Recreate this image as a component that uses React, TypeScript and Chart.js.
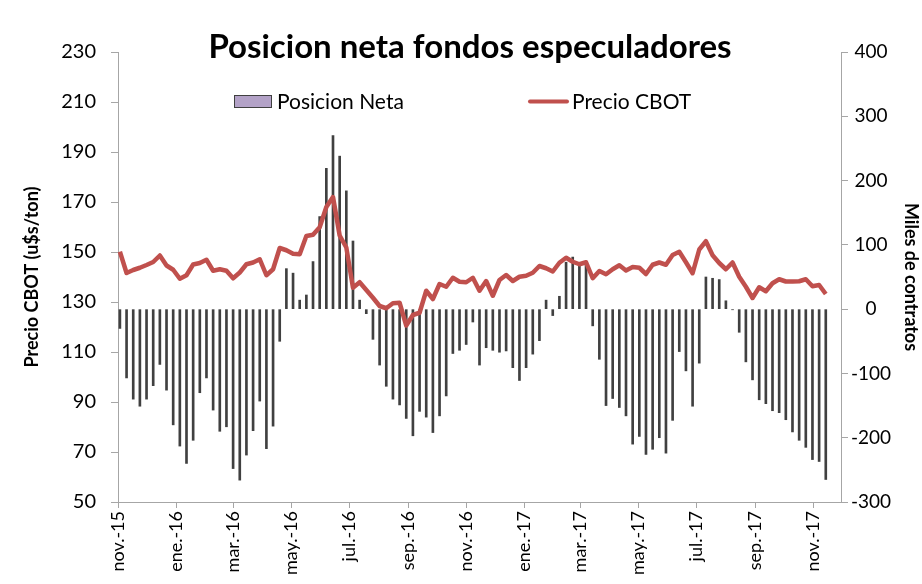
import React, { useEffect, useRef } from 'react';
import { Chart, registerables } from 'chart.js';

Chart.register(...registerables);

const chartTitle = 'Posicion neta fondos especuladores';
const barLabel = 'Posicion Neta';
const lineLabel = 'Precio CBOT';
const leftAxisTitle = 'Precio CBOT (u$s/ton)';
const rightAxisTitle = 'Miles de contratos';

const weekDates = [
  '2015-11-03', '2015-11-10', '2015-11-17', '2015-11-24', '2015-12-01', '2015-12-08', '2015-12-15', '2015-12-22', '2015-12-29',
  '2016-01-05', '2016-01-12', '2016-01-19', '2016-01-26', '2016-02-02', '2016-02-09', '2016-02-16', '2016-02-23',
  '2016-03-01', '2016-03-08', '2016-03-15', '2016-03-22', '2016-03-29', '2016-04-05', '2016-04-12', '2016-04-19', '2016-04-26',
  '2016-05-03', '2016-05-10', '2016-05-17', '2016-05-24', '2016-05-31', '2016-06-07', '2016-06-14', '2016-06-21', '2016-06-28',
  '2016-07-05', '2016-07-12', '2016-07-19', '2016-07-26', '2016-08-02', '2016-08-09', '2016-08-16', '2016-08-23', '2016-08-30',
  '2016-09-06', '2016-09-13', '2016-09-20', '2016-09-27', '2016-10-04', '2016-10-11', '2016-10-18', '2016-10-25',
  '2016-11-01', '2016-11-08', '2016-11-15', '2016-11-22', '2016-11-29', '2016-12-06', '2016-12-13', '2016-12-20', '2016-12-27',
  '2017-01-03', '2017-01-10', '2017-01-17', '2017-01-24', '2017-01-31', '2017-02-07', '2017-02-14', '2017-02-21', '2017-02-28',
  '2017-03-07', '2017-03-14', '2017-03-21', '2017-03-28', '2017-04-04', '2017-04-11', '2017-04-18', '2017-04-25',
  '2017-05-02', '2017-05-09', '2017-05-16', '2017-05-23', '2017-05-30', '2017-06-06', '2017-06-13', '2017-06-20', '2017-06-27',
  '2017-07-04', '2017-07-11', '2017-07-18', '2017-07-25', '2017-08-01', '2017-08-08', '2017-08-15', '2017-08-22', '2017-08-29',
  '2017-09-05', '2017-09-12', '2017-09-19', '2017-09-26', '2017-10-03', '2017-10-10', '2017-10-17', '2017-10-24', '2017-10-31',
  '2017-11-07', '2017-11-14',
];

const posicionNeta = [
  -30, -107, -140, -151, -140, -119, -86, -126, -180, -213,
  -240, -204, -130, -107, -157, -190, -183, -248, -266, -227,
  -189, -143, -217, -182, -50, 63, 56, 14, 22, 74,
  144, 219, 270, 238, 184, 106, 14, -7, -47, -87,
  -120, -140, -149, -170, -197, -159, -168, -192, -166, -135,
  -69, -64, -55, -20, -87, -60, -64, -67, -65, -91,
  -111, -91, -70, -49, 14, -10, 20, 73, 81, 69,
  72, -26, -78, -150, -139, -153, -166, -210, -198, -226,
  -218, -200, -224, -173, -66, -96, -151, -84, 50, 48,
  46, 13, -1, -36, -82, -110, -141, -147, -158, -161,
  -172, -191, -204, -215, -234, -237, -265,
];

const precioCBOT = [
  150.1, 141.6, 142.8, 143.7, 144.8, 146.0, 148.6, 144.6, 142.9, 139.3,
  140.7, 145.0, 145.6, 146.9, 142.5, 143.1, 142.5, 139.5, 141.8, 145.1,
  145.8, 147.1, 140.7, 143.1, 151.6, 150.7, 149.3, 149.1, 156.4, 156.9,
  159.9, 168.0, 172.0, 156.6, 151.8, 135.7, 137.9, 134.8, 131.7, 128.4,
  127.5, 129.5, 129.7, 120.6, 124.8, 125.7, 134.5, 131.2, 137.2, 136.1,
  139.7, 138.1, 137.9, 139.7, 134.5, 138.4, 132.5, 138.8, 140.8, 138.4,
  140.1, 140.5, 141.7, 144.4, 143.5, 142.2, 145.7, 147.7, 146.1, 145.1,
  145.9, 139.5, 142.4, 141.1, 143.1, 144.7, 142.6, 144.0, 143.7, 141.2,
  144.9, 145.8, 144.9, 148.8, 150.1, 145.9, 141.5, 151.0, 154.3, 148.7,
  145.6, 143.1, 145.8, 140.1, 136.1, 131.6, 135.9, 134.3, 137.5, 139.1,
  138.2, 138.2, 138.3, 139.1, 136.3, 136.8, 133.2,
];

const axisStartDate = '2015-11-01';
const axisEndDate = '2017-11-30';
const tickDates = [
  '2015-11-01', '2016-01-01', '2016-03-01', '2016-05-01', '2016-07-01', '2016-09-01', '2016-11-01',
  '2017-01-01', '2017-03-01', '2017-05-01', '2017-07-01', '2017-09-01', '2017-11-01',
];
const tickLabels = [
  'nov.-15', 'ene.-16', 'mar.-16', 'may.-16', 'jul.-16', 'sep.-16', 'nov.-16',
  'ene.-17', 'mar.-17', 'may.-17', 'jul.-17', 'sep.-17', 'nov.-17',
];

const dayIndex = (s: string) =>
  Math.round((Date.parse(s + 'T00:00:00Z') - Date.parse(axisStartDate + 'T00:00:00Z')) / 86400000);

const FONT = 'Lato';
const AXIS_COLOR = '#a6a6a6';

export default function App() {
  const canvasRef = useRef<HTMLCanvasElement | null>(null);

  useEffect(() => {
    document.body.style.margin = '0';
    const canvas = canvasRef.current;
    if (!canvas) return;
    const xs = weekDates.map(dayIndex);
    const tickDays = tickDates.map(dayIndex);

    const overlay = {
      id: 'overlay',
      afterDraw(chart: any) {
        const ctx = chart.ctx as CanvasRenderingContext2D;
        ctx.save();
        ctx.fillStyle = '#000';
        ctx.font = `bold 33px ${FONT}`;
        ctx.textAlign = 'center';
        ctx.textBaseline = 'middle';
        ctx.fillText(chartTitle, 470, 47);

        ctx.font = `21px ${FONT}`;
        ctx.textAlign = 'left';
        ctx.fillStyle = '#b3a2c7';
        ctx.fillRect(234.5, 95.5, 37, 12);
        ctx.strokeStyle = '#404040';
        ctx.lineWidth = 1;
        ctx.strokeRect(234.5, 95.5, 37, 12);
        ctx.fillStyle = '#000';
        ctx.fillText(barLabel, 277, 102);

        ctx.strokeStyle = '#c0504d';
        ctx.lineWidth = 4;
        ctx.lineCap = 'round';
        ctx.beginPath();
        ctx.moveTo(530, 101.5);
        ctx.lineTo(567, 101.5);
        ctx.stroke();
        ctx.fillText(lineLabel, 572, 102);
        ctx.restore();
      },
    };

    const chart = new Chart(canvas, {
      type: 'bar',
      data: {
        datasets: [
          {
            type: 'line',
            label: lineLabel,
            data: xs.map((x, i) => ({ x, y: precioCBOT[i] })),
            yAxisID: 'y',
            borderColor: '#c0504d',
            backgroundColor: '#c0504d',
            borderWidth: 4.5,
            pointRadius: 0,
            tension: 0,
            borderJoinStyle: 'round',
            order: 1,
          } as any,
          {
            type: 'bar',
            label: barLabel,
            data: xs.map((x, i) => ({ x, y: posicionNeta[i] })),
            yAxisID: 'y1',
            backgroundColor: '#404040',
            barThickness: 2,
            order: 2,
          } as any,
        ],
      },
      options: {
        responsive: false,
        animation: false,
        layout: { padding: { top: 52, left: 0, right: 0, bottom: 0 } },
        plugins: { legend: { display: false }, tooltip: { enabled: false }, title: { display: false } },
        scales: {
          x: {
            type: 'linear',
            min: 0,
            max: dayIndex(axisEndDate),
            offset: false,
            grid: { display: true, offset: false, drawOnChartArea: false, drawTicks: true, tickLength: 6, color: AXIS_COLOR },
            border: { display: true, color: AXIS_COLOR, width: 1 },
            afterBuildTicks: (scale: any) => {
              scale.ticks = tickDays.map((v) => ({ value: v }));
            },
            afterFit: (scale: any) => {
              scale.height = 82;
            },
            ticks: {
              autoSkip: false,
              maxRotation: 90,
              minRotation: 90,
              padding: 3,
              color: '#000',
              font: { family: FONT, size: 18 },
              callback: (v: any) => {
                const k = tickDays.indexOf(Number(v));
                return k >= 0 ? tickLabels[k] : '';
              },
            },
          },
          y: {
            type: 'linear',
            position: 'left',
            min: 50,
            max: 230,
            grid: { display: true, drawOnChartArea: false, drawTicks: true, tickLength: 7, color: AXIS_COLOR },
            border: { display: true, color: AXIS_COLOR, width: 1 },
            ticks: { stepSize: 20, padding: 15, color: '#000', font: { family: FONT, size: 20 } },
            title: {
              display: true,
              text: leftAxisTitle,
              color: '#000',
              font: { family: FONT, size: 18, weight: 'bold' },
              padding: { top: 21, bottom: 0 },
            },
            afterFit: (scale: any) => {
              scale.width = 118;
            },
          },
          y1: {
            type: 'linear',
            position: 'right',
            min: -300,
            max: 400,
            grid: { display: true, drawOnChartArea: false, drawTicks: true, tickLength: 7, color: AXIS_COLOR },
            border: { display: true, color: AXIS_COLOR, width: 1 },
            ticks: { stepSize: 100, padding: 3, crossAlign: 'center', color: '#000', font: { family: FONT, size: 19 } },
            title: {
              display: true,
              text: rightAxisTitle,
              color: '#000',
              font: { family: FONT, size: 18, weight: 'bold' },
              padding: { top: 0, bottom: 0 },
            },
            afterFit: (scale: any) => {
              scale.width = 81;
            },
          },
        },
      } as any,
      plugins: [overlay],
    });
    return () => chart.destroy();
  }, []);

  return (
    <div style={{ width: 922, height: 584, position: 'relative' }}>
      <canvas ref={canvasRef} width={922} height={584} style={{ display: 'block' }} />
    </div>
  );
}
